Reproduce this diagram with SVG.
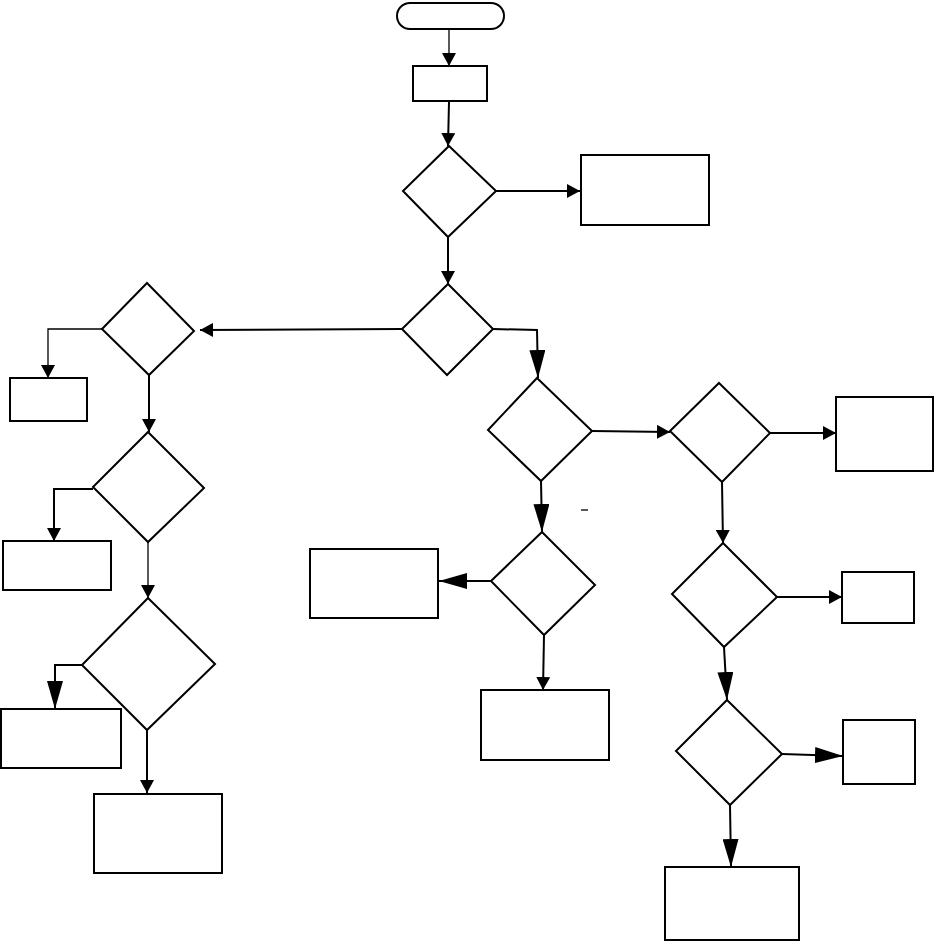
<svg xmlns="http://www.w3.org/2000/svg" width="935" height="942" viewBox="0 0 935 942">
<defs>
<style>
.n{fill:#fff;stroke:#000;stroke-width:2}
.c{fill:none;stroke:#000;stroke-width:2}
.t{stroke-width:1.3}
.s{marker-end:url(#as)}
.l{marker-end:url(#al)}
</style>
<marker id="as" markerUnits="userSpaceOnUse" markerWidth="14" markerHeight="14" refX="13" refY="7" orient="auto" viewBox="0 0 14 14"><path d="M0,0 L13,7 L0,14 z" fill="#000"/></marker>
<marker id="al" markerUnits="userSpaceOnUse" markerWidth="28" markerHeight="16" refX="28" refY="8" orient="auto" viewBox="0 0 28 16"><path d="M0,0 L28,8 L0,16 z" fill="#000"/></marker>
</defs>
<rect width="935" height="942" fill="#fff"/>
<g id="connectors">
<path class="c t s" d="M449,29 L449,66"/>
<path class="c s" d="M449,102 L448,146"/>
<path class="c s" d="M496,191 L580,191"/>
<path class="c s" d="M448,237 L448,284"/>
<path class="c l" d="M493,329 L537,330 L538,378"/>
<path class="c s" d="M402,329 L200,330"/>
<path class="c t s" d="M102,329 L48,329 L48,378"/>
<path class="c s" d="M149,375 L149,432"/>
<path class="c s" d="M93,489 L54,489 L54,541"/>
<path class="c t s" d="M148,542 L148,598"/>
<path class="c l" d="M82,665 L55,665 L55,709"/>
<path class="c s" d="M147,730 L147,793"/>
<path class="c s" d="M592,431 L670,432"/>
<path class="c s" d="M770,433 L836,433"/>
<path class="c s" d="M722,482 L723,543"/>
<path class="c s" d="M777,597 L842,597"/>
<path class="c l" d="M724,647 L727,700"/>
<path class="c l" d="M782,754 L843,756"/>
<path class="c l" d="M730,805 L731,867"/>
<path class="c l" d="M541,481 L542,532"/>
<path class="c l" d="M491,581 L439,581"/>
<path class="c s" d="M544,635 L543,690"/>
<path class="c t" d="M581,510 L588,510"/>
</g>
<g id="start"><rect class="n" x="397" y="3" width="107" height="26" rx="13"/></g>
<g id="r1"><rect class="n" x="413" y="66" width="74" height="35"/></g>
<g id="d1"><path class="n" d="M449,146 L496,191 L448,237 L403,191 z"/></g>
<g id="r2"><rect class="n" x="581" y="155" width="128" height="70"/></g>
<g id="d2"><path class="n" d="M448,284 L493,329 L447,375 L402,329 z"/></g>
<g id="d3"><path class="n" d="M537,378 L592,431 L541,481 L488,430 z"/></g>
<g id="d4"><path class="n" d="M147,283 L194,331 L149,375 L102,329 z"/></g>
<g id="r3"><rect class="n" x="10" y="378" width="77" height="43"/></g>
<g id="d5"><path class="n" d="M148,432 L204,488 L148,542 L93,487 z"/></g>
<g id="r4"><rect class="n" x="3" y="541" width="108" height="49"/></g>
<g id="d6"><path class="n" d="M148,598 L215,664 L147,730 L82,665 z"/></g>
<g id="r5"><rect class="n" x="1" y="709" width="120" height="59"/></g>
<g id="r6"><rect class="n" x="94" y="794" width="128" height="79"/></g>
<g id="d7"><path class="n" d="M719,383 L770,433 L722,482 L670,431 z"/></g>
<g id="r7"><rect class="n" x="836" y="397" width="97" height="74"/></g>
<g id="d8"><path class="n" d="M723,543 L777,597 L724,647 L672,594 z"/></g>
<g id="r8"><rect class="n" x="842" y="572" width="72" height="51"/></g>
<g id="d9"><path class="n" d="M727,700 L782,754 L730,805 L676,751 z"/></g>
<g id="r9"><rect class="n" x="843" y="720" width="72" height="64"/></g>
<g id="r10"><rect class="n" x="665" y="867" width="134" height="73"/></g>
<g id="d10"><path class="n" d="M542,532 L595,585 L544,635 L491,581 z"/></g>
<g id="r11"><rect class="n" x="310" y="549" width="128" height="69"/></g>
<g id="r12"><rect class="n" x="481" y="690" width="128" height="70"/></g>
</svg>
